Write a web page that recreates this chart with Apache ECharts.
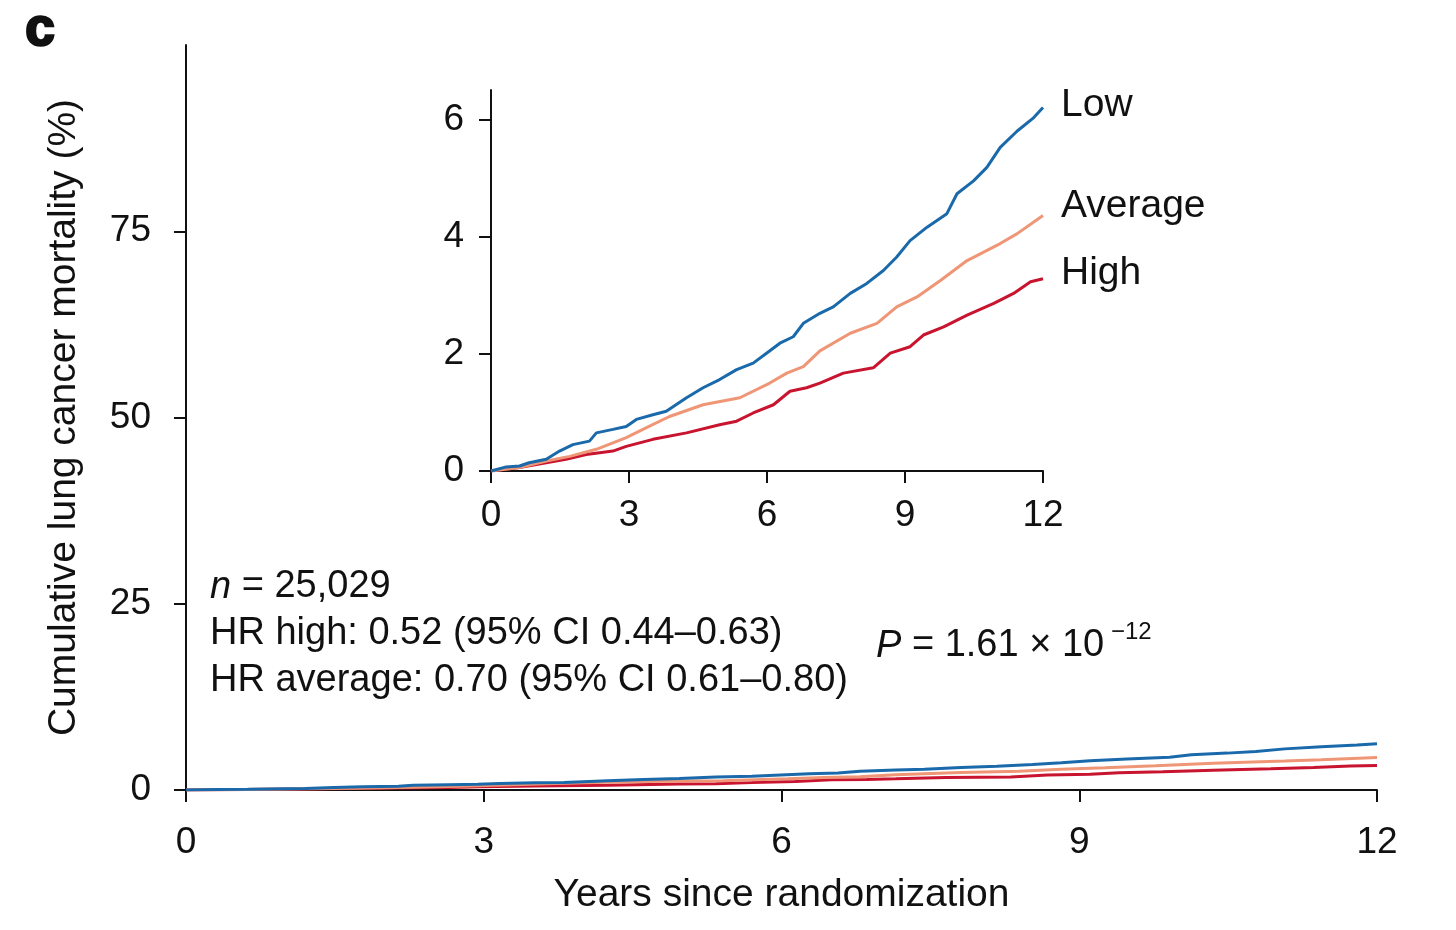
<!DOCTYPE html>
<html>
<head>
<meta charset="utf-8">
<script src="https://cdn.jsdelivr.net/npm/echarts@6/dist/echarts.min.js"></script>
<style>
html,body{margin:0;padding:0;background:#fff;}
#chart{width:1456px;height:930px;}
</style>
</head>
<body>
<div id="chart"></div>
<script>
// ---- data (years since randomization, cumulative mortality %) ----
const seriesNames = ['Low', 'Average', 'High'];
const lowYears = [0, 0.33, 0.62, 0.83, 1.2, 1.49, 1.78, 2.14, 2.29, 2.65, 2.94, 3.16, 3.52, 3.81, 4.25, 4.61, 4.97, 5.34, 5.70, 5.99, 6.28, 6.57, 6.79, 7.15, 7.44, 7.81, 8.17, 8.53, 8.82, 9.11, 9.48, 9.91, 10.13, 10.49, 10.78, 11.07, 11.44, 11.80, 12.0];
const lowVals  = [0, 0.07, 0.085, 0.14, 0.2, 0.34, 0.45, 0.51, 0.65, 0.71, 0.76, 0.88, 0.96, 1.02, 1.25, 1.42, 1.56, 1.73, 1.84, 2.01, 2.18, 2.29, 2.52, 2.69, 2.80, 3.03, 3.20, 3.42, 3.65, 3.93, 4.16, 4.39, 4.73, 4.95, 5.18, 5.52, 5.80, 6.03, 6.20];
const avgYears = [0, 0.62, 1.2, 1.71, 2.29, 2.65, 2.94, 3.38, 3.88, 4.61, 5.41, 6.06, 6.43, 6.79, 7.15, 7.81, 8.39, 8.82, 9.26, 9.77, 10.35, 11.07, 11.44, 12.0];
const avgVals  = [0, 0.06, 0.17, 0.25, 0.37, 0.48, 0.57, 0.74, 0.93, 1.13, 1.25, 1.50, 1.67, 1.78, 2.05, 2.35, 2.52, 2.80, 2.97, 3.25, 3.59, 3.88, 4.05, 4.36];
const highYears = [0, 0.62, 1.2, 1.63, 2.07, 2.65, 2.94, 3.52, 4.25, 4.97, 5.34, 5.70, 6.14, 6.50, 6.86, 7.15, 7.66, 8.31, 8.68, 9.11, 9.40, 9.84, 10.35, 10.93, 11.36, 11.73, 12.0];
const highVals  = [0, 0.06, 0.14, 0.2, 0.28, 0.34, 0.42, 0.54, 0.65, 0.79, 0.85, 0.99, 1.13, 1.36, 1.42, 1.50, 1.67, 1.76, 2.01, 2.12, 2.32, 2.46, 2.66, 2.86, 3.03, 3.23, 3.28];
const mainYTicks = [0, 25, 50, 75];
const insetYTicks = [0, 2, 4, 6];
const xTickLabels = [0, 3, 6, 9, 12];

const colors = ['#1a69aa', '#ef9677', '#c8142f'];
const pairs = (xs, ys) => xs.map((x, i) => [x, ys[i]]);
const allData = [pairs(lowYears, lowVals), pairs(avgYears, avgVals), pairs(highYears, highVals)];

const FONT = 'Liberation Sans, Arial, Helvetica, sans-serif';
const axisText = { color: '#111', fontSize: 37, fontFamily: FONT };

const chart = echarts.init(document.getElementById('chart'), null, { renderer: 'canvas' });

const series = [];
allData.forEach((d, i) => {
  series.push({
    name: seriesNames[i], type: 'line', xAxisIndex: 0, yAxisIndex: 0,
    data: d, showSymbol: false, silent: true,
    lineStyle: { color: colors[i], width: 3 }, z: 3 - i
  });
});
const endOffsets = [[10, -2], [10, -9], [10, -5]];
allData.forEach((d, i) => {
  series.push({
    name: seriesNames[i] + ' inset', type: 'line', xAxisIndex: 1, yAxisIndex: 1,
    data: d, showSymbol: false, silent: true,
    lineStyle: { color: colors[i], width: 3 }, z: 3 - i,
    endLabel: { show: true, formatter: seriesNames[i], color: '#111', fontSize: 39, fontFamily: FONT, offset: endOffsets[i] }
  });
});

const option = {
  animation: false,
  backgroundColor: '#fff',
  grid: [
    { left: 186, right: 79, top: 45, bottom: 140 },
    { left: 491, right: 413, top: 90, bottom: 459 }
  ],
  xAxis: [
    {
      gridIndex: 0, type: 'value', min: 0, max: 12, interval: 3,
      name: 'Years since randomization', nameLocation: 'middle', nameGap: 86,
      nameTextStyle: { color: '#111', fontSize: 39, fontFamily: FONT },
      axisLine: { lineStyle: { color: '#111', width: 2 } },
      axisTick: { show: true, length: 12, lineStyle: { color: '#111', width: 2 } },
      axisLabel: Object.assign({ margin: 34, formatter: v => xTickLabels.includes(v) ? String(v) : '' }, axisText),
      splitLine: { show: false }
    },
    {
      gridIndex: 1, type: 'value', min: 0, max: 12, interval: 3,
      axisLine: { lineStyle: { color: '#111', width: 2 } },
      axisTick: { show: true, length: 12, lineStyle: { color: '#111', width: 2 } },
      axisLabel: Object.assign({ margin: 26, formatter: v => xTickLabels.includes(v) ? String(v) : '' }, axisText),
      splitLine: { show: false }
    }
  ],
  yAxis: [
    {
      gridIndex: 0, type: 'value', min: 0, max: 100, interval: 25,
      name: 'Cumulative lung cancer mortality (%)', nameLocation: 'middle', nameGap: 102,
      nameTextStyle: { color: '#111', fontSize: 39, fontFamily: FONT },
      axisLine: { show: true, lineStyle: { color: '#111', width: 2 } },
      axisTick: { show: true, length: 12, customValues: mainYTicks, lineStyle: { color: '#111', width: 2 } },
      axisLabel: Object.assign({ margin: 35, customValues: mainYTicks }, axisText),
      splitLine: { show: false }
    },
    {
      gridIndex: 1, type: 'value', min: 0, max: 6.5,
      axisLine: { show: true, lineStyle: { color: '#111', width: 2 } },
      axisTick: { show: true, length: 12, customValues: insetYTicks, lineStyle: { color: '#111', width: 2 } },
      axisLabel: Object.assign({ margin: 27, customValues: insetYTicks }, axisText),
      splitLine: { show: false }
    }
  ],
  graphic: [
    { type: 'text', left: 24, top: 3, style: { text: 'c', font: '900 53px ' + FONT, fill: '#111', stroke: '#111', lineWidth: 2.5 } },
    { type: 'text', x: 210, y: 587, style: {
        text: '{i|n} = 25,029', textVerticalAlign: 'middle', fill: '#111',
        font: '38px ' + FONT,
        rich: { i: { fontStyle: 'italic', fontSize: 38, fontFamily: FONT, fill: '#111' } } } },
    { type: 'text', x: 210, y: 634, style: { text: 'HR high: 0.52 (95% CI 0.44–0.63)', textVerticalAlign: 'middle', fill: '#111', font: '38px ' + FONT } },
    { type: 'text', x: 210, y: 681, style: { text: 'HR average: 0.70 (95% CI 0.61–0.80)', textVerticalAlign: 'middle', fill: '#111', font: '38px ' + FONT } },
    { type: 'text', x: 876, y: 646, style: {
        text: '{i|P} = 1.61 × 10', textVerticalAlign: 'middle', fill: '#111',
        font: '38px ' + FONT,
        rich: { i: { fontStyle: 'italic', fontSize: 38, fontFamily: FONT, fill: '#111' } } } },
    { type: 'text', x: 1111, y: 632, style: { text: '−12', textVerticalAlign: 'middle', fill: '#111', font: '24px ' + FONT } }
  ],
  series: series
};
chart.setOption(option);
</script>
</body>
</html>
